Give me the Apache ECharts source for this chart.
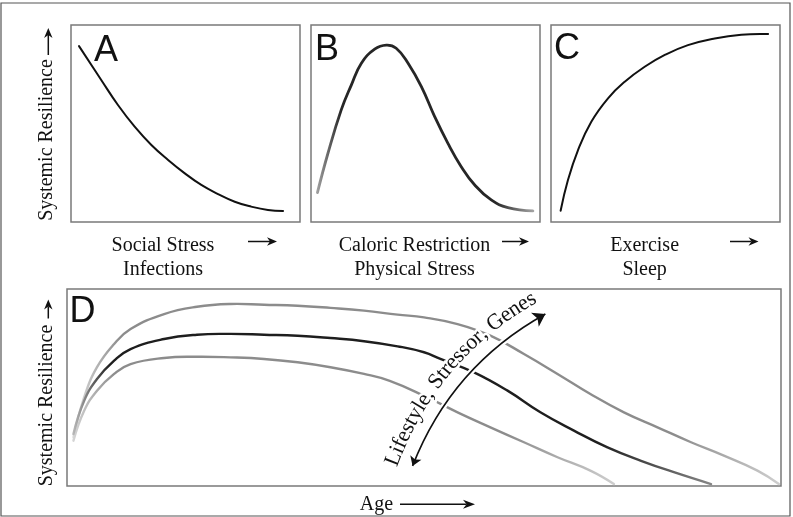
<!DOCTYPE html>
<html><head><meta charset="utf-8">
<script src="https://cdn.jsdelivr.net/npm/echarts@6/dist/echarts.min.js"></script>
<style>html,body{margin:0;padding:0;background:#fff}#c{width:793px;height:517px}</style>
</head><body><div id="c"></div>
<script>
// ---- Data (normalised 0..100 on each panel's axes) ----
const aX = [3.5, 13.2, 20.5, 27.8, 35.1, 42.4, 49.7, 56.9, 64.2, 71.5, 78.7, 86.0, 92.6];
const aY = [89.3, 72.1, 59.4, 48.4, 39.1, 31.5, 24.7, 18.8, 14.2, 10.3, 7.8, 6.1, 5.6];

const bX = [2.8, 7.4, 13.2, 17.6, 22.0, 27.8, 32.9, 37.2, 42.4, 48.2, 54.0, 59.8, 65.6, 71.5, 78.7, 86.0, 96.9];
const bY = [14.9, 34.9, 56.9, 69.5, 80.6, 87.7, 89.8, 88.2, 80.6, 68.7, 53.5, 39.9, 28.1, 18.8, 11.2, 7.3, 5.6];

const cX = [4.2, 7.4, 11.8, 17.6, 24.9, 32.2, 40.9, 49.7, 59.8, 71.5, 83.1, 94.8];
const cY = [5.7, 21.3, 36.5, 50.9, 62.8, 71.2, 78.8, 84.8, 89.8, 93.2, 95.1, 95.4];

const dTopX = [0.9, 2.4, 4.2, 6.6, 8.9, 13.6, 18.2, 22.9, 27.6, 32.3, 36.9, 41.6, 46.3, 50.0, 54.7, 59.3, 64.0, 68.7, 73.3, 78.0, 82.7, 87.4, 92.0, 96.7, 99.7];
const dTopY = [24.7, 45.0, 60.3, 72.1, 79.7, 87.3, 91.0, 92.4, 92.0, 91.5, 90.4, 89.0, 87.0, 85.6, 82.2, 76.3, 67.0, 56.9, 46.7, 37.4, 29.8, 22.2, 15.4, 7.8, 1.0];

const dMidX = [0.9, 2.4, 4.2, 6.6, 8.9, 13.6, 18.2, 22.9, 27.6, 32.3, 36.9, 41.6, 46.3, 50.0, 52.3, 57.0, 61.7, 66.3, 71.0, 75.7, 80.4, 85.0, 90.2];
const dMidY = [26.4, 43.3, 54.3, 63.6, 69.5, 74.6, 76.8, 77.2, 76.8, 76.3, 75.1, 73.5, 70.9, 67.9, 64.5, 57.7, 48.4, 37.4, 28.1, 19.6, 12.8, 7.0, 1.0];

const dBotX = [0.9, 2.4, 4.2, 6.6, 8.9, 13.6, 18.2, 22.9, 27.6, 32.3, 36.9, 41.6, 45.2, 50.0, 54.7, 59.3, 64.0, 68.7, 73.3, 76.6];
const dBotY = [23.0, 38.2, 48.4, 56.9, 61.9, 65.0, 65.6, 65.3, 64.5, 62.8, 60.3, 56.9, 53.4, 45.8, 37.4, 29.8, 22.2, 14.6, 7.8, 1.0];

// annotation arrow in panel D (axis units): start (lower-left), end (upper-right)
const arrowCoords = [[48.4, 10.2], [67.0, 87.3]];

// ---- Texts ----
const panelLetters = ['A', 'B', 'C', 'D'];
const xLabelLines = [['Social Stress', 'Infections'], ['Caloric Restriction', 'Physical Stress'], ['Exercise', 'Sleep']];
const yLabel = 'Systemic Resilience';
const dXLabel = 'Age';
const arcLabel = 'Lifestyle, Stressor, Genes';

// ---- Layout / style ----
const SERIF = '"Liberation Serif", "Times New Roman", serif';
const SANS = '"Liberation Sans", Arial, sans-serif';
const CURV = 0.18;
const grids = [
  {left: 71, top: 25, width: 229, height: 197},
  {left: 311, top: 25, width: 229, height: 197},
  {left: 551, top: 25, width: 229, height: 197},
  {left: 67, top: 289, width: 714, height: 197}
].map(g => Object.assign({show: true, borderColor: '#7a7a7a', borderWidth: 1.5, backgroundColor: '#fff', containLabel: false}, g));

function zip(xs, ys) { return xs.map((x, i) => [x, ys[i]]); }
function axis(i) { return {type: 'value', gridIndex: i, min: 0, max: 100, show: false}; }
function grad(stops) {
  return {type: 'linear', x: 0, y: 0, x2: 1, y2: 0, global: false, colorStops: stops.map(s => ({offset: s[0], color: s[1]}))};
}
// smooth curve through the read points, positioned by the axes via api.coord
function curve(i, xs, ys, color, width) {
  const pts = zip(xs, ys);
  return {type: 'custom', xAxisIndex: i, yAxisIndex: i, data: pts, silent: true, z: 2,
    encode: {x: 0, y: 1},
    renderItem: function (params, api) {
      if (params.dataIndex !== 0) return null;
      return {type: 'polyline', silent: true,
        shape: {points: pts.map(p => api.coord(p)), smooth: 0.45},
        style: {stroke: color, lineWidth: width, fill: null, lineCap: 'round', lineJoin: 'round'}};
    }};
}

const chart = echarts.init(document.getElementById('c'), null, {renderer: 'canvas'});
chart.setOption({
  animation: false,
  backgroundColor: '#fff',
  grid: grids,
  xAxis: [0, 1, 2, 3].map(axis),
  yAxis: [0, 1, 2, 3].map(axis),
  series: [
    curve(0, aX, aY, '#111', 2),
    curve(1, bX, bY, grad([[0, '#aaa'], [0.12, '#262626'], [0.82, '#262626'], [1, '#aaa']]), 2.8),
    curve(2, cX, cY, '#111', 2),
    curve(3, dTopX, dTopY, grad([[0, '#e0e0e0'], [0.07, '#8c8c8c'], [0.85, '#8c8c8c'], [1, '#cfcfcf']]), 2.4),
    curve(3, dBotX, dBotY, grad([[0, '#d8d8d8'], [0.08, '#8c8c8c'], [0.8, '#8c8c8c'], [1, '#cfcfcf']]), 2.4),
    curve(3, dMidX, dMidY, grad([[0, '#c0c0c0'], [0.06, '#1e1e1e'], [0.82, '#1e1e1e'], [1, '#888']]), 2.4),
    {type: 'lines', coordinateSystem: 'cartesian2d', xAxisIndex: 3, yAxisIndex: 3, z: 5, silent: true,
      symbol: ['none', 'none'],
      lineStyle: {color: '#fff', width: 6, curveness: CURV, opacity: 1},
      data: [{coords: arrowCoords}]},
    {type: 'lines', coordinateSystem: 'cartesian2d', xAxisIndex: 3, yAxisIndex: 3, z: 6, silent: true,
      symbol: ['arrow', 'arrow'], symbolSize: [9, 12],
      lineStyle: {color: '#111', width: 1.6, curveness: CURV, opacity: 1},
      itemStyle: {color: '#111'},
      data: [{coords: arrowCoords}]}
  ]
});

// ---- graphic helpers ----
function txt(text, x, y, font, opts) {
  return Object.assign({type: 'text', x: x, y: y, z: 100, silent: true,
    style: Object.assign({text: text, font: font, fill: '#111', align: 'center', verticalAlign: 'middle',
      textAlign: 'center', textVerticalAlign: 'middle'}, (opts && opts.style) || {})},
    (opts && opts.el) || {});
}
function arrow(x1, y1, x2, y2, hl, hw) {
  const L = Math.hypot(x2 - x1, y2 - y1), ux = (x2 - x1) / L, uy = (y2 - y1) / L, px = -uy, py = ux;
  const notch = hl * 0.7;
  return [
    {type: 'line', z: 100, silent: true, shape: {x1: x1, y1: y1, x2: x2 - ux * notch, y2: y2 - uy * notch},
      style: {stroke: '#111', lineWidth: 1.5}},
    {type: 'polygon', z: 100, silent: true, shape: {points: [
      [x2, y2], [x2 - ux * hl + px * hw, y2 - uy * hl + py * hw], [x2 - ux * notch, y2 - uy * notch],
      [x2 - ux * hl - px * hw, y2 - uy * hl - py * hw]]}, style: {fill: '#111'}}
  ];
}

const els = [];
els.push({type: 'rect', z: 90, silent: true, shape: {x: 1, y: 3, width: 789, height: 513},
  style: {fill: null, stroke: '#555', lineWidth: 1.2}});

// panel letters
const letterPos = [[94, 51], [315, 50], [554, 49.5], [69.5, 312.5]];
panelLetters.forEach((l, i) => els.push(txt(l, letterPos[i][0], letterPos[i][1], '36px ' + SANS,
  {style: {align: 'left', textAlign: 'left'}})));

// x labels for A, B, C
const xLabelCx = [163, 414.5, 644.6];
xLabelLines.forEach((lines, i) => {
  els.push(txt(lines[0], xLabelCx[i], 245.8, '20px ' + SERIF));
  els.push(txt(lines[1], xLabelCx[i], 269.7, '20px ' + SERIF));
});
const xArrows = [[248, 277], [502, 529], [730, 758.5]];
xArrows.forEach(a => els.push(...arrow(a[0], 241.5, a[1], 241.5, 10, 4.2)));

// y labels
els.push(txt(yLabel, 47, 140, '20px ' + SERIF, {el: {rotation: Math.PI / 2}}));
els.push(...arrow(48.3, 55, 48.3, 28, 10, 4.2));
els.push(txt(yLabel, 47, 405.5, '20px ' + SERIF, {el: {rotation: Math.PI / 2}}));
els.push(...arrow(48.3, 318.5, 48.3, 299.5, 10, 4.2));

// Age
els.push(txt(dXLabel, 376.5, 504.5, '20px ' + SERIF));
els.push(...arrow(400, 504.3, 475, 504.3, 12, 4.5));

// text along the curved arrow
(function () {
  const p1 = chart.convertToPixel({gridIndex: 3}, arrowCoords[0]);
  const p2 = chart.convertToPixel({gridIndex: 3}, arrowCoords[1]);
  const cp = [(p1[0] + p2[0]) / 2 - (p1[1] - p2[1]) * CURV, (p1[1] + p2[1]) / 2 - (p2[0] - p1[0]) * CURV];
  const off = 20, N = 400, pts = [], lens = [0];
  for (let i = 0; i <= N; i++) {
    const t = i / N, m = 1 - t;
    const x = m * m * p1[0] + 2 * m * t * cp[0] + t * t * p2[0], y = m * m * p1[1] + 2 * m * t * cp[1] + t * t * p2[1];
    let dx = 2 * m * (cp[0] - p1[0]) + 2 * t * (p2[0] - cp[0]), dy = 2 * m * (cp[1] - p1[1]) + 2 * t * (p2[1] - cp[1]);
    const d = Math.hypot(dx, dy); dx /= d; dy /= d;
    pts.push([x + dy * off, y - dx * off, dx, dy]);   // offset curve on the upper-left side
    if (i) lens.push(lens[i - 1] + Math.hypot(pts[i][0] - pts[i - 1][0], pts[i][1] - pts[i - 1][1]));
  }
  const total = lens[N];
  function at(s) {
    if (s < 0) { return {x: pts[0][0] + pts[0][2] * s, y: pts[0][1] + pts[0][3] * s, ux: pts[0][2], uy: pts[0][3]}; }
    if (s > total) { const e = pts[N]; return {x: e[0] + e[2] * (s - total), y: e[1] + e[3] * (s - total), ux: e[2], uy: e[3]}; }
    let i = 1;
    while (i < N && lens[i] < s) i++;
    const a = pts[i - 1], b = pts[i], seg = lens[i] - lens[i - 1] || 1;
    const f = (s - lens[i - 1]) / seg;
    return {x: a[0] + (b[0] - a[0]) * f, y: a[1] + (b[1] - a[1]) * f, ux: a[2] + (b[2] - a[2]) * f, uy: a[3] + (b[3] - a[3]) * f};
  }
  const font = '22px ' + SERIF;
  const ctx = document.createElement('canvas').getContext('2d');
  ctx.font = '22px "Liberation Serif"';
  const chars = Array.from(arcLabel);
  const w = chars.map(c => ctx.measureText(c).width);
  const W = w.reduce((s, v) => s + v, 0);
  const s0 = (total - W) / 2 - 4;
  let cum = 0;
  const halo = [], ink = [];
  chars.forEach((c, i) => {
    const s = s0 + cum + w[i] / 2;
    cum += w[i];
    if (c === ' ') return;
    const p = at(s);
    const base = {type: 'text', x: p.x, y: p.y, rotation: Math.atan2(-p.uy, p.ux), silent: true};
    halo.push(Object.assign({}, base, {z: 105, style: {text: c, font: font, fill: '#fff', stroke: '#fff', lineWidth: 5,
      align: 'center', verticalAlign: 'middle', textAlign: 'center', textVerticalAlign: 'middle'}}));
    ink.push(Object.assign({}, base, {z: 110, style: {text: c, font: font, fill: '#111',
      align: 'center', verticalAlign: 'middle', textAlign: 'center', textVerticalAlign: 'middle'}}));
  });
  els.push(...halo, ...ink);
})();

chart.setOption({graphic: [{elements: els}]});
</script></body></html>
